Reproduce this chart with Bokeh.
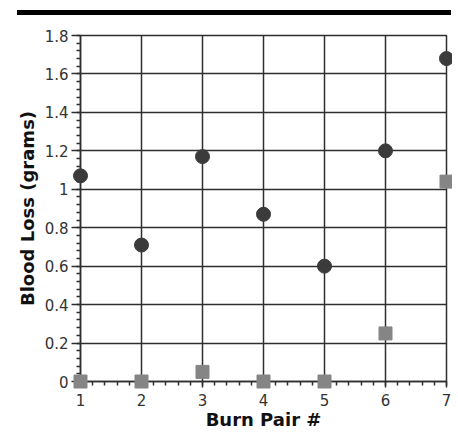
from bokeh.plotting import figure
from bokeh.models import Range1d, FixedTicker, ColumnDataSource, Div, Column
from bokeh.embed import file_html
from bokeh.resources import INLINE

# ---- data ----
burn_pair = [1, 2, 3, 4, 5, 6, 7]
loss_a = [1.07, 0.71, 1.17, 0.87, 0.60, 1.20, 1.68]   # dark circles
loss_b = [0.00, 0.00, 0.05, 0.00, 0.00, 0.25, 1.04]   # grey squares
x_ticks = [1, 2, 3, 4, 5, 6, 7]
y_ticks = [0, 0.2, 0.4, 0.6, 0.8, 1.0, 1.2, 1.4, 1.6, 1.8]
y_tick_labels = ["0", "0.2", "0.4", "0.6", "0.8", "1", "1.2", "1.4", "1.6", "1.8"]
x_minor = [round(1 + 0.2 * i, 2) for i in range(31)]
y_minor = [round(0.04 * i, 2) for i in range(46)]

DARK = "#2e2e2e"
FONT = "DejaVu Sans"

bar = Div(text="", width=434, height=5, margin=(10, 0, 0, 17),
          styles={"background-color": "black"})

p = figure(width=452, height=417, output_backend="svg", toolbar_location=None,
           x_range=Range1d(1, 7), y_range=Range1d(0, 1.8),
           min_border_top=20, min_border_left=80, min_border_right=6,
           min_border_bottom=51)
p.background_fill_color = "white"
p.border_fill_color = "white"
p.outline_line_color = DARK
p.outline_line_width = 1.5

p.xaxis.ticker = FixedTicker(ticks=x_ticks, minor_ticks=x_minor)
p.yaxis.ticker = FixedTicker(ticks=y_ticks, minor_ticks=y_minor)
p.yaxis.major_label_overrides = {float(v): s for v, s in zip(y_ticks, y_tick_labels)}

for ax in (p.xaxis, p.yaxis):
    ax.axis_line_color = DARK
    ax.axis_line_width = 1.5
    ax.major_tick_line_color = DARK
    ax.major_tick_line_width = 1.5
    ax.minor_tick_line_color = DARK
    ax.minor_tick_line_width = 1.5
    ax.major_tick_in = 0
    ax.minor_tick_in = 0
    ax.major_label_text_font = FONT
    ax.major_label_text_font_size = "15px"
    ax.major_label_text_color = "#333333"
    ax.axis_label_text_font = FONT
    ax.axis_label_text_font_size = "18px"
    ax.axis_label_text_font_style = "bold"
    ax.axis_label_text_color = "#111111"

p.xaxis.major_tick_out = 6
p.xaxis.minor_tick_out = 4
p.xaxis.major_label_standoff = 6
p.xaxis.axis_label_standoff = 0
p.xaxis.axis_label = "Burn Pair #"

p.yaxis.major_tick_out = 9
p.yaxis.minor_tick_out = 4
p.yaxis.major_label_standoff = 3
p.yaxis.axis_label_standoff = 4
p.yaxis.axis_label = "Blood Loss (grams)"

p.xgrid.ticker = FixedTicker(ticks=x_ticks)
p.ygrid.ticker = FixedTicker(ticks=y_ticks)
for g in (p.xgrid, p.ygrid):
    g.grid_line_color = DARK
    g.grid_line_width = 1.5
    g.grid_line_alpha = 1.0

src = ColumnDataSource(dict(x=burn_pair, a=loss_a, b=loss_b))
p.scatter("x", "a", source=src, marker="circle", size=14,
          fill_color="#3b3b3b", line_color="#3b3b3b", level="overlay")
p.scatter("x", "b", source=src, marker="square", size=13,
          fill_color="#858585", line_color="#858585", level="overlay")

layout = Column(children=[bar, p], spacing=0)
open("out.html", "w").write(file_html(layout, INLINE))
